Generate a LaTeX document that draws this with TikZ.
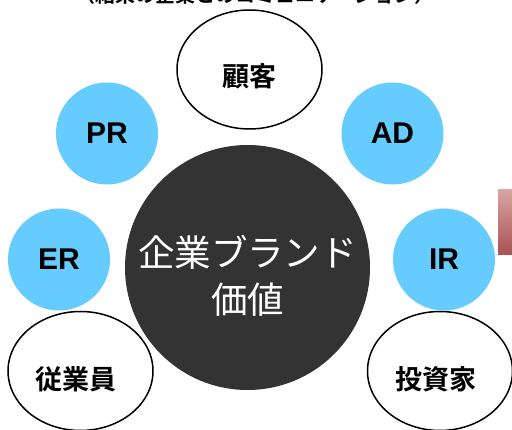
\documentclass[tikz,border=0pt]{standalone}
\usepackage{fontspec}
\setmainfont{Liberation Sans}
\newfontfamily\jp{Noto Sans CJK JP}[BoldFont={Noto Sans CJK JP Bold}]
\usetikzlibrary{shapes.geometric}
\definecolor{skyblue}{HTML}{66CCFF}
\definecolor{darkcore}{HTML}{333333}
\definecolor{barTop}{HTML}{D9A3A3}
\definecolor{barBot}{HTML}{A85252}
\tikzset{
  bluecirc/.style={circle, fill=skyblue, minimum size=102pt, inner sep=0pt,
    font=\bfseries\fontsize{30}{34}\selectfont, text=black},
  outell/.style={ellipse, draw=black, line width=1.5pt, fill=white,
    minimum width=145pt, minimum height=119pt, inner sep=0pt},
  jlabel/.style={font=\jp\bfseries\fontsize{27}{32}\selectfont, text=black},
  corecirc/.style={circle, fill=darkcore, minimum size=245pt, inner sep=0pt},
}
\begin{document}
\begin{tikzpicture}[x=1pt,y=-1pt]
\useasboundingbox (0,0) rectangle (512,430);
% title (cut off at the top, as in the reference)
\node[anchor=base, font=\jp\bfseries\fontsize{20}{24}\selectfont, inner sep=0pt] (title) at (255,2.5) {（結果の企業とのコミュニケーション）};
% red bar
\shade[top color=barTop, bottom color=barBot] (498,190) rectangle (513,255);
% centre
\node[corecirc] (core) at (247.5,267.5) {};
\node[font=\jp\fontsize{36.5}{47}\selectfont, text=white, align=center, inner sep=0pt] (coretext) at (247.5,276) {企業ブランド\\価値};
% blue circles
\node[bluecirc] (pr) at (107,133.5) {PR};
\node[bluecirc] (ad) at (392.5,133.5) {AD};
\node[bluecirc] (er) at (59,259.5) {ER};
\node[bluecirc] (ir) at (444,259.5) {IR};
% outlined ellipses
\node[outell] (cust) at (249.5,69.5) {};
\node[jlabel] (custtext) at ([yshift=-7pt]cust.center) {顧客};
\node[outell] (emp) at (80.5,371) {};
\node[jlabel] (emptext) at ([xshift=-5pt,yshift=-8pt]emp.center) {従業員};
\node[outell] (inv) at (440,371) {};
\node[jlabel] (invtext) at ([xshift=-4pt,yshift=-8pt]inv.center) {投資家};
\end{tikzpicture}
\end{document}
